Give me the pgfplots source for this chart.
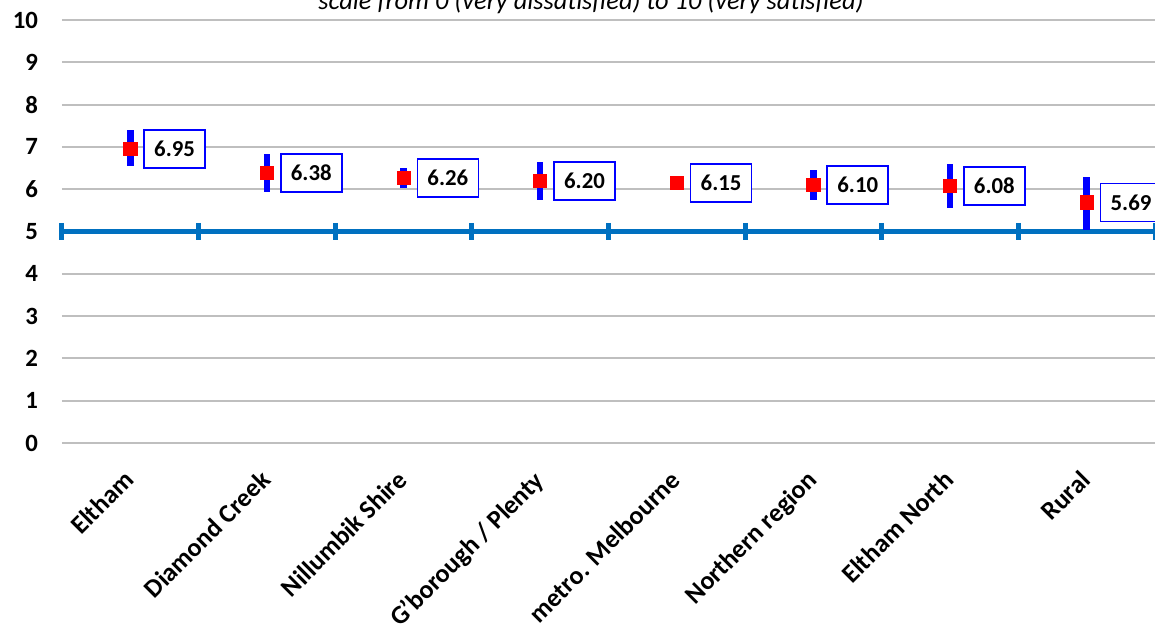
\documentclass[border=0pt]{standalone}
\usepackage{pgfplots}
\usepackage{pgfplotstable}
\pgfplotsset{compat=1.18}
\usepackage{fontspec}
\setmainfont{Carlito}
\definecolor{lineblue}{RGB}{0,112,192}
\definecolor{gridgray}{RGB}{191,191,191}
\begin{document}
\pgfplotstableread{
x y ep em lab
0 6.95 0.44 0.40 6.95
1 6.38 0.45 0.44 6.38
2 6.26 0.23 0.22 6.26
3 6.20 0.44 0.45 6.20
4 6.15 0.00 0.00 6.15
5 6.10 0.35 0.35 6.10
6 6.08 0.51 0.53 6.08
7 5.69 0.61 0.66 5.69
}\data
\begin{tikzpicture}
\path[use as bounding box, clip] (-31pt,-91pt) rectangle (546.5pt,221.5pt);
\begin{axis}[
 at={(0,0)}, anchor=south west, scale only axis, width=546.5pt, height=211.5pt,
 xmin=-0.5, xmax=7.5, ymin=0, ymax=10,
 axis lines*=left, axis line style={draw=none}, major tick length=0pt,
 ytick={0,...,10}, ymajorgrids, grid style={gridgray, line width=1pt},
 xtick={0,...,7},
 xticklabels={Eltham, Diamond Creek, Nillumbik Shire, G'borough / Plenty, metro. Melbourne, Northern region, Eltham North, Rural},
 xticklabel style={xshift=-4pt, yshift=-8pt, rotate=45, anchor=north east, font=\fontsize{13}{15}\selectfont\bfseries},
 yticklabel style={xshift=-8.5pt, font=\fontsize{12.4}{14}\selectfont\bfseries},
 clip=false,
 /pgf/number format/assume math mode=true,
]
\addplot[lineblue, line width=2.8pt, forget plot] coordinates {(-0.5,5) (7.5,5)};
\addplot[only marks, mark=|, mark size=4.25pt, mark options={lineblue, line width=2.5pt}, forget plot]
 coordinates {(-0.5,5)(0.5,5)(1.5,5)(2.5,5)(3.5,5)(4.5,5)(5.5,5)(6.5,5)(7.5,5)};
\addplot[draw=none, mark=none, forget plot, error bars/.cd, y dir=both, y explicit,
 error bar style={blue, line width=3.2pt}, error mark=none]
 table[x=x, y=y, y error plus=ep, y error minus=em] {\data};
\addplot[only marks, mark=square*, mark size=3.3pt, mark options={red, draw=red},
 nodes near coords, point meta=explicit symbolic,
 every node near coord/.style={anchor=west, xshift=6.5pt, draw=blue, fill=white, line width=0.8pt,
   text=black, font=\fontsize{11.4}{13}\selectfont\bfseries, minimum height=19pt, minimum width=30.5pt, inner xsep=2pt}]
 table[x=x, y=y, meta=lab] {\data};
\end{axis}
\node[anchor=base, font=\fontsize{13.2}{15}\selectfont\itshape] at (264.5pt,216.5pt) {scale from 0 (very dissatisfied) to 10 (very satisfied)};
\end{tikzpicture}
\end{document}
